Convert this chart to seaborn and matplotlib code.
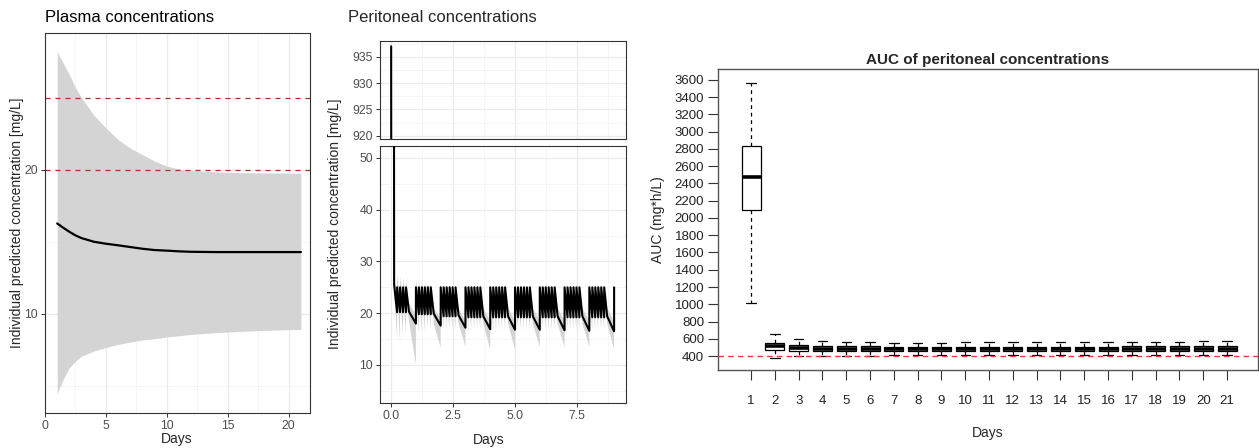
import numpy as np
import pandas as pd
import matplotlib
matplotlib.use("Agg")
import matplotlib.pyplot as plt
import seaborn as sns
from matplotlib.ticker import FixedLocator

# ---------------- data ----------------
# Plasma concentrations (mean and 90% band)
plasma_days = [1, 1.5, 2, 2.5, 3, 4, 5, 6, 7, 8, 9, 10, 11, 12, 14, 16, 18, 21]
plasma_mean = [16.27, 15.97, 15.69, 15.44, 15.25, 15.0, 14.86, 14.75, 14.63, 14.51,
               14.42, 14.38, 14.33, 14.3, 14.28, 14.28, 14.28, 14.28]
plasma_p05 = [4.45, 5.45, 6.25, 6.7, 7.05, 7.4, 7.65, 7.87, 8.03, 8.17,
              8.26, 8.38, 8.47, 8.56, 8.68, 8.77, 8.84, 8.91]
plasma_p95 = [28.2, 27.4, 26.6, 25.7, 25.0, 23.8, 22.9, 22.1, 21.5, 21.05,
              20.6, 20.25, 20.05, 19.95, 19.85, 19.8, 19.78, 19.75]
plasma_targets = [20, 25]

# Peritoneal concentrations (median and band)
peri_time = [
    0.00, 0.12, 0.24, 0.24, 0.36, 0.36, 0.48, 0.48, 0.60, 0.60, 0.72, 1.00,
    1.00, 1.12, 1.12, 1.24, 1.24, 1.36, 1.36, 1.48, 1.48, 1.60, 1.60, 1.72, 2.00,
    2.00, 2.12, 2.12, 2.24, 2.24, 2.36, 2.36, 2.48, 2.48, 2.60, 2.60, 2.72, 3.00,
    3.00, 3.12, 3.12, 3.24, 3.24, 3.36, 3.36, 3.48, 3.48, 3.60, 3.60, 3.72, 4.00,
    4.00, 4.12, 4.12, 4.24, 4.24, 4.36, 4.36, 4.48, 4.48, 4.60, 4.60, 4.72, 5.00,
    5.00, 5.12, 5.12, 5.24, 5.24, 5.36, 5.36, 5.48, 5.48, 5.60, 5.60, 5.72, 6.00,
    6.00, 6.12, 6.12, 6.24, 6.24, 6.36, 6.36, 6.48, 6.48, 6.60, 6.60, 6.72, 7.00,
    7.00, 7.12, 7.12, 7.24, 7.24, 7.36, 7.36, 7.48, 7.48, 7.60, 7.60, 7.72, 8.00,
    8.00, 8.12, 8.12, 8.24, 8.24, 8.36, 8.36, 8.48, 8.48, 8.60, 8.60, 8.72, 9.00,
    9.00]
peri_median = [
    937.0, 25.5, 20.2, 25.0, 20.2, 25.0, 20.2, 25.0, 20.2, 25.0, 20.3, 18.0,
    25.0, 19.8, 25.0, 19.8, 25.0, 19.8, 25.0, 19.8, 25.0, 19.8, 25.0, 19.9, 17.6,
    25.0, 19.4, 25.0, 19.4, 25.0, 19.4, 25.0, 19.4, 25.0, 19.4, 25.0, 19.6, 17.2,
    25.0, 19.2, 25.0, 19.2, 25.0, 19.2, 25.0, 19.2, 25.0, 19.2, 25.0, 19.4, 16.9,
    25.0, 19.2, 25.0, 19.2, 25.0, 19.2, 25.0, 19.2, 25.0, 19.2, 25.0, 19.4, 16.8,
    25.0, 19.2, 25.0, 19.2, 25.0, 19.2, 25.0, 19.2, 25.0, 19.2, 25.0, 19.4, 16.8,
    25.0, 19.2, 25.0, 19.2, 25.0, 19.2, 25.0, 19.2, 25.0, 19.2, 25.0, 19.4, 16.7,
    25.0, 19.2, 25.0, 19.2, 25.0, 19.2, 25.0, 19.2, 25.0, 19.2, 25.0, 19.4, 16.6,
    25.0, 19.2, 25.0, 19.2, 25.0, 19.2, 25.0, 19.2, 25.0, 19.2, 25.0, 19.4, 16.5,
    25.0]
peri_p05 = [
    937.0, 24.0, 15.0, 24.0, 14.5, 24.0, 15.5, 24.0, 16.0, 24.0, 18.5, 10.0,
    23.0, 16.0, 23.0, 16.5, 23.0, 16.5, 23.0, 17.0, 23.0, 17.0, 23.0, 18.0, 13.3,
    23.0, 16.8, 23.0, 16.8, 23.0, 16.8, 23.0, 16.8, 23.0, 16.8, 23.0, 18.0, 13.5,
    23.0, 16.8, 23.0, 16.8, 23.0, 16.8, 23.0, 16.8, 23.0, 16.8, 23.0, 18.0, 12.9,
    23.0, 16.8, 23.0, 16.8, 23.0, 16.8, 23.0, 16.8, 23.0, 16.8, 23.0, 18.0, 13.0,
    23.0, 16.8, 23.0, 16.8, 23.0, 16.8, 23.0, 16.8, 23.0, 16.8, 23.0, 18.0, 13.4,
    23.0, 16.8, 23.0, 16.8, 23.0, 16.8, 23.0, 16.8, 23.0, 16.8, 23.0, 18.0, 13.4,
    23.0, 16.8, 23.0, 16.8, 23.0, 16.8, 23.0, 16.8, 23.0, 16.8, 23.0, 18.0, 13.5,
    23.0, 16.8, 23.0, 16.8, 23.0, 16.8, 23.0, 16.8, 23.0, 16.8, 23.0, 18.0, 13.0,
    23.0]
peri_p95 = [
    937.0, 27.6, 23.5, 27.3, 23.5, 27.0, 23.5, 26.8, 23.5, 26.6, 22.0, 19.5,
    26.4, 23.0, 26.2, 23.0, 26.1, 23.0, 26.0, 23.0, 25.8, 23.0, 25.7, 21.0, 19.0,
    25.6, 22.5, 25.5, 22.5, 25.4, 22.5, 25.3, 22.5, 25.3, 22.5, 25.2, 21.0, 18.5,
    25.1, 22.5, 25.1, 22.5, 25.1, 22.5, 25.1, 22.5, 25.1, 22.5, 25.1, 21.0, 18.5,
    25.1, 22.5, 25.1, 22.5, 25.1, 22.5, 25.1, 22.5, 25.1, 22.5, 25.1, 21.0, 18.5,
    25.1, 22.5, 25.1, 22.5, 25.1, 22.5, 25.1, 22.5, 25.1, 22.5, 25.1, 21.0, 18.5,
    25.1, 22.5, 25.1, 22.5, 25.1, 22.5, 25.1, 22.5, 25.1, 22.5, 25.1, 21.0, 18.5,
    25.1, 22.5, 25.1, 22.5, 25.1, 22.5, 25.1, 22.5, 25.1, 22.5, 25.1, 21.0, 18.5,
    25.1, 22.5, 25.1, 22.5, 25.1, 22.5, 25.1, 22.5, 25.1, 22.5, 25.1, 21.0, 18.5,
    25.1]

# AUC of peritoneal concentrations (box summaries per day)
auc_days = list(range(1, 22))
auc_min = [1020, 375, 395, 400, 402, 405, 408, 410, 410, 410, 412, 412, 412, 412,
           412, 412, 410, 410, 410, 410, 410]
auc_q1 = [2090, 475, 460, 458, 458, 458, 455, 455, 455, 455, 455, 455, 455, 455,
          455, 455, 455, 455, 455, 455, 455]
auc_med = [2470, 515, 490, 485, 485, 485, 482, 482, 480, 480, 480, 480, 480, 480,
           480, 480, 482, 482, 482, 482, 482]
auc_q3 = [2830, 555, 525, 515, 515, 515, 510, 510, 508, 508, 508, 508, 508, 508,
          508, 508, 515, 515, 515, 515, 515]
auc_max = [3570, 655, 595, 572, 565, 565, 555, 555, 555, 560, 558, 558, 558, 558,
           558, 558, 565, 565, 568, 570, 572]
auc_target = 400

# ---------------- style ----------------
sns.set_theme(style="white")
plt.rcParams['font.family'] = ['Liberation Sans', 'DejaVu Sans']

W, H = 1259, 448
fig = plt.figure(figsize=(W / 100, H / 100), dpi=100)


def px_axes(x0, y0, x1, y1):
    return fig.add_axes([x0 / W, 1 - y1 / H, (x1 - x0) / W, (y1 - y0) / H])


def gg_style(ax, xmaj, xmin, ymaj, ymin, xlabels=True):
    ax.xaxis.set_major_locator(FixedLocator(xmaj))
    ax.xaxis.set_minor_locator(FixedLocator(xmin))
    ax.yaxis.set_major_locator(FixedLocator(ymaj))
    ax.yaxis.set_minor_locator(FixedLocator(ymin))
    ax.grid(True, which='major', color='#EBEBEB', lw=0.9)
    ax.grid(True, which='minor', color='#F4F4F4', lw=0.6)
    ax.set_axisbelow(True)
    for s in ax.spines.values():
        s.set_color('#333333')
        s.set_linewidth(0.8)
    ax.tick_params(which='major', length=3, width=0.7, color='#333333',
                   labelcolor='#4D4D4D', labelsize=8.8, pad=2,
                   left=True, bottom=xlabels, labelbottom=xlabels)
    ax.tick_params(which='minor', length=0)


GREY = '#D4D4D4'

# ---------------- Plasma panel ----------------
ax1 = px_axes(45, 33, 310, 413)
ax1.fill_between(plasma_days, plasma_p05, plasma_p95, color=GREY, lw=0, zorder=1)
sns.lineplot(x=plasma_days, y=plasma_mean, color='black', lw=1.6, ax=ax1,
             estimator=None, zorder=3)
for v in plasma_targets:
    ax1.axhline(v, color='#A23434', lw=0.9, ls=(0, (4, 4)), zorder=2)
ax1.set_xlim(0, 21.75)
ax1.set_ylim(3.1, 29.5)
gg_style(ax1, [0, 5, 10, 15, 20], [2.5, 7.5, 12.5, 17.5], [10, 20], [5, 15, 25])
ax1.set_xlabel('')
ax1.set_ylabel('')
fig.text(45 / W, 1 - 17 / H, 'Plasma concentrations', fontsize=12, va='center',
         ha='left', color='black')
fig.text(177 / W, 1 - 439 / H, 'Days', fontsize=10, ha='center', va='center')
fig.text(17 / W, 1 - 223 / H, 'Individual predicted concentration [mg/L]',
         fontsize=10, rotation=90, ha='center', va='center')

# ---------------- Peritoneal panel (broken axis) ----------------
ax2t = px_axes(380, 41, 626, 139)
ax2b = px_axes(380, 146, 626, 403)
for ax in (ax2t, ax2b):
    ax.fill_between(peri_time, peri_p05, peri_p95, color=GREY, lw=0, zorder=1)
    sns.lineplot(x=peri_time, y=peri_median, color='black', lw=1.5, ax=ax,
                 estimator=None, sort=False, zorder=3)
    ax.set_xlim(-0.45, 9.48)
    ax.set_xlabel('')
    ax.set_ylabel('')
ax2t.set_ylim(919.4, 938)
ax2b.set_ylim(2.65, 52.3)
gg_style(ax2t, [0, 2.5, 5, 7.5], [1.25, 3.75, 6.25, 8.75],
         [920, 925, 930, 935], [922.5, 927.5, 932.5, 937.5], xlabels=False)
gg_style(ax2b, [0, 2.5, 5, 7.5], [1.25, 3.75, 6.25, 8.75],
         [10, 20, 30, 40, 50], [5, 15, 25, 35, 45])
ax2b.set_xticklabels(['0.0', '2.5', '5.0', '7.5'])
fig.text(348 / W, 1 - 17 / H, 'Peritoneal concentrations', fontsize=12,
         va='center', ha='left')
fig.text(489 / W, 1 - 440 / H, 'Days', fontsize=10, ha='center', va='center')
fig.text(335 / W, 1 - 224 / H, 'Individual predicted concentration [mg/L]',
         fontsize=10, rotation=90, ha='center', va='center')

# ---------------- AUC boxplot ----------------
ax3 = px_axes(718, 69, 1258, 370)
auc_df = pd.DataFrame({
    'Day': np.repeat(auc_days, 5),
    'AUC': np.column_stack([auc_min, auc_q1, auc_med, auc_q3, auc_max]).ravel(),
})
sns.boxplot(data=auc_df, x='Day', y='AUC', native_scale=True, whis=(0, 100),
            width=0.8, color='white', linecolor='black', linewidth=0.9,
            fliersize=0, ax=ax3,
            medianprops=dict(lw=2.6, color='black'),
            whiskerprops=dict(ls=(0, (3, 3)), lw=0.9),
            capprops=dict(lw=0.9))
ax3.axhline(auc_target, color='#E0403A', lw=1, ls=(0, (4, 3)), zorder=5)
ax3.set_xlim(-0.39, 22.3)
ax3.set_ylim(238, 3727)
ax3.set_xticks(auc_days)
ax3.set_xticklabels([str(d) for d in auc_days])
ax3.set_yticks(list(range(400, 3601, 200)))
ax3.grid(False)
for s in ax3.spines.values():
    s.set_color('#555555')
    s.set_linewidth(1.0)
ax3.tick_params(axis='x', length=7, width=0.8, color='#333333', labelsize=9.5,
                pad=11, labelcolor='#222222', bottom=True)
ax3.tick_params(axis='y', length=7, width=0.8, color='#333333', labelsize=9.5,
                pad=3, labelcolor='#222222', left=True)
ax3.set_xlabel('')
ax3.set_ylabel('')
fig.text(988 / W, 1 - 60 / H, 'AUC of peritoneal concentrations', fontsize=11,
         fontweight='bold', ha='center', va='center')
fig.text(988 / W, 1 - 433 / H, 'Days', fontsize=10, ha='center', va='center')
fig.text(658 / W, 1 - 220 / H, 'AUC (mg*h/L)', fontsize=10, rotation=90,
         ha='center', va='center')

fig.savefig('out.png', dpi=100)
